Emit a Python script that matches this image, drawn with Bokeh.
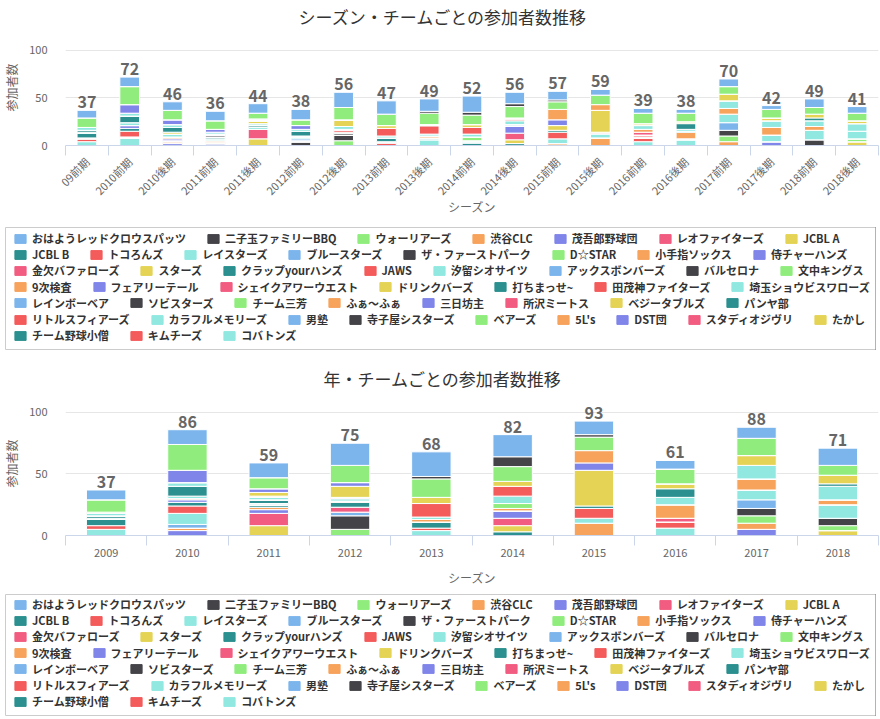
import math
from bokeh.plotting import figure
from bokeh.models import ColumnDataSource, FixedTicker, Legend, LegendItem, Range1d
from bokeh.embed import file_html
from bokeh.resources import INLINE
from bokeh.core.properties import value

FONT = "Noto Sans CJK JP"

TEAMS = ["おはようレッドクロウスパッツ", "二子玉ファミリーBBQ", "ウォーリアーズ", "渋谷CLC", "茂吾郎野球団", "レオファイターズ", "JCBL A",
         "JCBL B", "トコろんズ", "レイスターズ", "ブルースターズ", "ザ・ファーストパーク", "D☆STAR", "小手指ソックス", "侍チャーハンズ",
         "金欠バファローズ", "スターズ", "クラップyourハンズ", "JAWS", "汐留シオサイツ", "アックスボンバーズ", "バルセロナ", "文中キングス",
         "9次検査", "フェアリーテール", "シェイクアワーウエスト", "ドリンクバーズ", "打ちまっせ~", "田茂神ファイターズ", "埼玉ショウビスワローズ",
         "レインボーベア", "ソビスターズ", "チーム三芳", "ふぁ～ふぁ", "三日坊主", "所沢ミートス", "ベジータブルズ", "パンヤ部",
         "リトルスフィアーズ", "カラフルメモリーズ", "男塾", "寺子屋シスターズ", "ベアーズ", "5L's", "DST団", "スタディオジヴリ", "たかし",
         "チーム野球小僧", "キムチーズ", "コバトンズ"]

PALETTE = ["#7cb5ec", "#434348", "#90ed7d", "#f7a35c", "#8085e9",
           "#f15c80", "#e4d354", "#2b908f", "#f45b5b", "#91e8e1"]

LEGEND_ROWS = [7, 8, 8, 7, 8, 9, 3]

SEASONS = ["09前期", "2010前期", "2010後期", "2011前期", "2011後期", "2012前期", "2012後期",
           "2013前期", "2013後期", "2014前期", "2014後期", "2015前期", "2015後期", "2016前期",
           "2016後期", "2017前期", "2017後期", "2018前期", "2018後期"]

# (team index, participants) per season
S09A = [(0, 8), (2, 10), (9, 3), (17, 2), (19, 1), (27, 5), (35, 1), (38, 3), (39, 4)]
S10A = [(0, 10), (2, 19), (4, 9), (9, 3), (17, 7), (19, 3), (24, 3), (27, 3), (28, 6), (33, 1), (39, 8)]
S10B = [(0, 9), (2, 10), (4, 5), (9, 3), (17, 5), (26, 2), (29, 3), (33, 2), (34, 2), (39, 1), (43, 2), (44, 2)]
S11A = [(0, 10), (2, 9), (4, 3), (9, 2), (18, 1), (21, 2), (27, 2), (29, 2), (33, 2), (36, 1), (44, 2)]
S11B = [(0, 10), (2, 6), (4, 1), (9, 1), (16, 3), (19, 2), (27, 2), (29, 2), (35, 10), (36, 7)]
S12A = [(0, 11), (2, 6), (4, 4), (9, 2), (17, 5), (26, 1), (29, 2), (30, 2), (34, 1), (41, 4)]
S12B = [(0, 16), (2, 13), (6, 7), (9, 3), (15, 1), (18, 2), (19, 1), (21, 2), (31, 6), (32, 5)]
S13A = [(0, 14), (2, 12), (6, 3), (8, 8), (9, 2), (17, 4), (19, 1), (28, 3)]
S13B = [(0, 13), (1, 2), (2, 12), (9, 1), (18, 9), (19, 2), (23, 2), (26, 1), (27, 1), (29, 6)]
S14A = [(0, 17), (1, 3), (2, 10), (6, 3), (8, 7), (9, 3), (12, 4), (19, 2), (27, 3)]
S14B = [(0, 12), (1, 3), (2, 12), (5, 1), (8, 2), (9, 4), (19, 2), (24, 7), (25, 7), (26, 4), (27, 2)]
S15A = [(0, 9), (1, 2), (2, 8), (3, 11), (4, 6), (6, 5), (7, 2), (8, 7), (9, 5), (13, 2)]
S15B = [(0, 6), (2, 10), (3, 6), (6, 23), (15, 1), (18, 1), (19, 4), (23, 8)]
S16A = [(0, 5), (2, 11), (6, 2), (9, 4), (13, 3), (15, 3), (18, 2), (19, 1), (28, 4), (29, 4)]
S16B = [(0, 4), (2, 9), (6, 2), (7, 6), (9, 2), (17, 1), (23, 7), (26, 1), (29, 6)]
S17A = [(0, 8), (2, 8), (6, 7), (9, 8), (13, 6), (19, 9), (20, 8), (21, 6), (22, 6), (23, 4)]
S17B = [(0, 4), (2, 9), (6, 3), (9, 7), (13, 8), (19, 7), (24, 4)]
S18A = [(0, 9), (2, 7), (6, 4), (7, 3), (9, 6), (13, 4), (19, 10), (21, 6)]
S18B = [(0, 7), (2, 8), (6, 3), (9, 8), (19, 8), (22, 3), (26, 4)]

YEARS = ["2009", "2010", "2011", "2012", "2013", "2014", "2015", "2016", "2017", "2018"]

Y2009 = [(0, 8), (2, 10), (5, 1), (9, 2), (17, 2), (19, 1), (27, 5), (28, 3), (29, 5)]
Y2010 = [(0, 12), (2, 21), (4, 10), (9, 3), (17, 8), (19, 2), (23, 1), (24, 2), (27, 3), (28, 6), (29, 9), (30, 3), (33, 2), (34, 4)]
Y2011 = [(0, 12), (2, 9), (4, 3), (6, 3), (15, 1), (19, 2), (27, 3), (29, 1), (37, 2), (43, 2), (44, 3), (45, 10), (46, 8)]
Y2012 = [(0, 18), (2, 14), (4, 3), (6, 9), (15, 1), (19, 2), (23, 1), (27, 4), (35, 4), (40, 3), (41, 11), (42, 5)]
Y2013 = [(0, 20), (1, 2), (2, 15), (6, 5), (8, 11), (9, 2), (13, 2), (17, 5), (18, 2), (19, 4)]
Y2014 = [(0, 18), (1, 8), (2, 12), (6, 4), (8, 8), (9, 6), (12, 4), (13, 2), (24, 6), (25, 6), (26, 5), (27, 3)]
Y2015 = [(0, 11), (1, 2), (2, 11), (3, 10), (4, 6), (6, 29), (7, 2), (8, 8), (9, 4), (13, 10)]
Y2016 = [(0, 7), (2, 12), (6, 4), (7, 7), (9, 6), (13, 11), (15, 3), (18, 5), (19, 6)]
Y2017 = [(0, 9), (2, 14), (6, 8), (9, 11), (13, 9), (19, 8), (20, 7), (21, 6), (22, 6), (23, 5), (24, 5)]
Y2018 = [(0, 14), (2, 8), (6, 7), (7, 2), (9, 11), (13, 4), (19, 11), (21, 6), (22, 4), (26, 4)]

SEASON_DATA = [S09A, S10A, S10B, S11A, S11B, S12A, S12B, S13A, S13B, S14A, S14B,
               S15A, S15B, S16A, S16B, S17A, S17B, S18A, S18B]
YEAR_DATA = [Y2009, Y2010, Y2011, Y2012, Y2013, Y2014, Y2015, Y2016, Y2017, Y2018]

COLORS = [PALETTE[i % len(PALETTE)] for i in range(len(TEAMS))]


def build_source(cats, seg_lists):
    data = {"x": list(range(len(cats))), "cat": list(cats)}
    for t in TEAMS:
        data[t] = [0] * len(cats)
    for j, segs in enumerate(seg_lists):
        for ti, n in segs:
            data[TEAMS[ti]][j] += n
    data["total"] = [sum(n for _, n in segs) for segs in seg_lists]
    data["label"] = [str(v) for v in data["total"]]
    return ColumnDataSource(data)


def make_chart(title, cats, seg_lists, height, frame_top, frame_h, ymax, bar_w,
               rotate, title_offset, label_standoff, axis_label_standoff):
    src = build_source(cats, seg_lists)
    n = len(cats)
    p = figure(width=880, height=height, x_range=Range1d(-0.5, n - 0.5), y_range=Range1d(0, ymax),
               output_backend="svg", toolbar_location=None,
               min_border_left=55, min_border_right=2, min_border_top=frame_top,
               min_border_bottom=height - frame_top - frame_h)
    p.title.text = title
    p.title.align = "left"
    p.title.offset = title_offset
    p.title.standoff = 2
    p.title.text_font = FONT
    p.title.text_font_size = "17px"
    p.title.text_font_style = "normal"
    p.title.text_color = "#333333"
    p.outline_line_color = None
    p.background_fill_color = "white"

    p.vbar_stack(TEAMS[::-1], x="x", width=bar_w, source=src,
                 fill_color=COLORS[::-1], line_color="white", line_width=1)

    p.text(x="x", y="total", text="label", source=src, text_align="center",
           text_baseline="bottom", y_offset=-2, text_font=value(FONT),
           text_font_size="16px", text_font_style="bold", text_color="#666666")

    xa = p.xaxis[0]
    xa.ticker = FixedTicker(ticks=list(range(n)), minor_ticks=[i - 0.5 for i in range(n + 1)])
    xa.major_label_overrides = {i: c for i, c in enumerate(cats)}
    xa.major_tick_line_color = None
    xa.major_tick_out = 0
    xa.minor_tick_line_color = "#ccd6eb"
    xa.minor_tick_out = 10
    xa.minor_tick_in = 0
    xa.axis_line_color = "#ccd6eb"
    xa.major_label_text_font = FONT
    xa.major_label_text_font_size = "11px"
    xa.major_label_text_color = "#666666"
    xa.major_label_standoff = label_standoff
    if rotate:
        xa.major_label_orientation = math.pi / 4
    xa.axis_label = "シーズン"
    xa.axis_label_text_font = FONT
    xa.axis_label_text_font_size = "12px"
    xa.axis_label_text_font_style = "normal"
    xa.axis_label_text_color = "#666666"
    xa.axis_label_standoff = axis_label_standoff

    ya = p.yaxis[0]
    ya.ticker = FixedTicker(ticks=[0, 50, 100])
    ya.axis_line_color = None
    ya.major_tick_line_color = None
    ya.minor_tick_line_color = None
    ya.major_label_text_font = FONT
    ya.major_label_text_font_size = "11px"
    ya.major_label_text_color = "#666666"
    ya.major_label_standoff = 12
    ya.axis_label = "参加者数"
    ya.axis_label_text_font = FONT
    ya.axis_label_text_font_size = "12px"
    ya.axis_label_text_font_style = "normal"
    ya.axis_label_text_color = "#666666"
    ya.axis_label_standoff = 6

    p.xgrid.visible = False
    p.ygrid.grid_line_color = "#e6e6e6"
    return p


def make_legend(height, first_row, row_step):
    lf = figure(width=880, height=height, x_range=Range1d(0, 1), y_range=Range1d(0, 1),
                x_axis_type=None, y_axis_type=None, toolbar_location=None, output_backend="svg",
                min_border_left=5, min_border_right=5, min_border_top=0, min_border_bottom=1)
    lf.outline_line_color = "#cccccc"
    lf.outline_line_width = 1
    # legend-only renderers: their single bar lies outside the visible range
    rends = [lf.vbar(x=[5], top=[1], width=0.1, fill_color=COLORS[i], line_color=COLORS[i])
             for i in range(len(TEAMS))]
    frame_h = height - 1
    start = 0
    for r, cnt in enumerate(LEGEND_ROWS):
        items = [LegendItem(label=TEAMS[k], renderers=[rends[k]]) for k in range(start, start + cnt)]
        start += cnt
        c = first_row + row_step * r
        leg = Legend(items=items, orientation="horizontal", location=(8, frame_h - c - 7),
                     padding=0, margin=0, spacing=20, label_standoff=5,
                     glyph_width=14, glyph_height=11, label_height=12,
                     label_text_font=FONT, label_text_font_size="11px",
                     label_text_font_style="bold", label_text_color="#333333",
                     border_line_color=None, background_fill_alpha=0)
        lf.add_layout(leg)
    return lf


# top chart: canvas 0-227, frame 29-145 (100-gridline at 50)
p1 = make_chart("シーズン・チームごとの参加者数推移", SEASONS, SEASON_DATA,
                height=227, frame_top=29, frame_h=116, ymax=122.1, bar_w=0.46, rotate=True,
                title_offset=233, label_standoff=4, axis_label_standoff=-9)
l1 = make_legend(123, 12, 16.2)
# bottom chart: canvas 350-594, frame 391-535 (100-gridline at 412)
p2 = make_chart("年・チームごとの参加者数推移", YEARS, YEAR_DATA,
                height=244, frame_top=41, frame_h=144, ymax=117.07, bar_w=0.485, rotate=False,
                title_offset=258, label_standoff=3, axis_label_standoff=9)
l2 = make_legend(122, 11, 16.2)

open("out.html", "w").write(file_html([p1, l1, p2, l2], INLINE))
